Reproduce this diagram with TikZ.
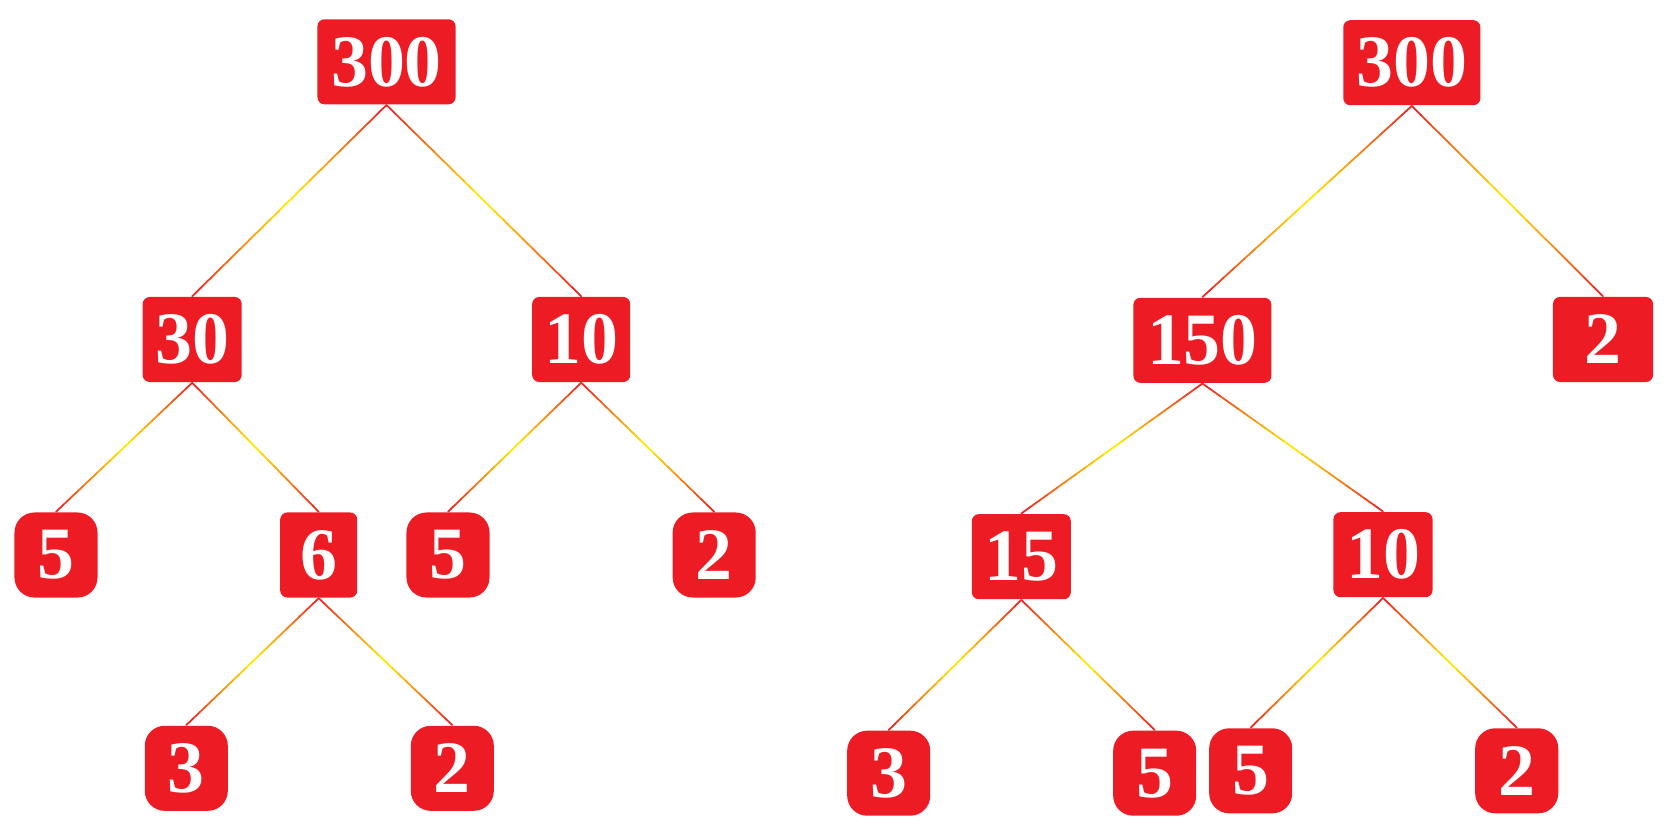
\documentclass[tikz,border=0pt]{standalone}
\usepackage{fontspec}
\setmainfont{Liberation Serif}[BoldFont={Liberation Serif Bold}]
\usetikzlibrary{calc}
\definecolor{boxred}{HTML}{ED1C24}
\definecolor{linkyel}{HTML}{FFF200}
% red-yellow-red link between two boxes
\newcommand{\glink}[2]{%
  \foreach \t in {0,...,19}{%
    \pgfmathsetmacro{\s}{\t/20}\pgfmathsetmacro{\e}{(\t+1)/20}%
    \pgfmathsetmacro{\m}{100-abs(\t+0.5-10)*10}%
    \draw[link,linkyel!\m!boxred] ($(#1.south)!\s!(#2.north)$) -- ($(#1.south)!\e!(#2.north)$);}}

\begin{document}
\begin{tikzpicture}[x=0.01cm,y=-0.01cm,
 num/.style={fill=boxred,text=white,font=\fontsize{21}{21}\selectfont\bfseries,inner sep=0pt,minimum height=0.85cm},
 sqbox/.style={num,rounded corners=2pt},
 rndbox/.style={num,rounded corners=0.2cm,minimum width=0.83cm},
 link/.style={line width=0.5pt,line cap=round}]
\useasboundingbox (0,0) rectangle (1667,833);
% left tree
\node[sqbox,minimum width=1.38cm] (lroot) at (386.5,61.8) {300};
\node[sqbox,minimum width=0.99cm] (l30) at (192.2,339.5) {30};
\node[sqbox,minimum width=0.98cm] (l10) at (581.2,339.5) {10};
\node[rndbox] (l5a) at (56,555) {5};
\node[sqbox,minimum width=0.77cm] (l6) at (318.7,555) {6};
\node[rndbox] (l5b) at (448,555) {5};
\node[rndbox] (l2) at (714.2,555) {2};
\node[rndbox] (l3) at (186.3,768.3) {3};
\node[rndbox] (l2b) at (452.3,768.3) {2};
\glink{lroot}{l30} \glink{lroot}{l10}
\glink{l30}{l5a} \glink{l30}{l6}
\glink{l10}{l5b} \glink{l10}{l2}
\glink{l6}{l3} \glink{l6}{l2b}
% right tree
\node[sqbox,minimum width=1.37cm] (rroot) at (1411.8,62.7) {300};
\node[sqbox,minimum width=1.38cm] (r150) at (1202.4,340.3) {150};
\node[sqbox,minimum width=1.0cm] (r2) at (1603,339.5) {2};
\node[sqbox,minimum width=0.99cm] (r15) at (1021.3,556.7) {15};
\node[sqbox,minimum width=0.99cm] (r10) at (1383,554.7) {10};
\node[rndbox] (r3) at (888.7,773.2) {3};
\node[rndbox] (r5a) at (1154.7,773.2) {5};
\node[rndbox] (r5b) at (1250.7,770.8) {5};
\node[rndbox] (r2b) at (1516.7,770.8) {2};
\glink{rroot}{r150} \glink{rroot}{r2}
\glink{r150}{r15} \glink{r150}{r10}
\glink{r15}{r3} \glink{r15}{r5a}
\glink{r10}{r5b} \glink{r10}{r2b}
\end{tikzpicture}
\end{document}
